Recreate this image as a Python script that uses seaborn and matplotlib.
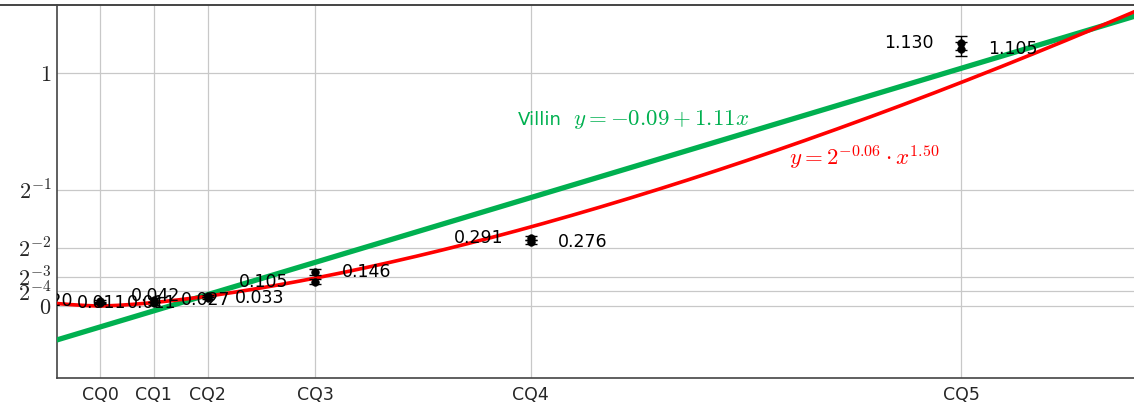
import numpy as np
import pandas as pd
import matplotlib
matplotlib.use("Agg")
import matplotlib.pyplot as plt
import seaborn as sns
from matplotlib.lines import Line2D

# categories and their x positions (CQ5 = 1)
categories = ["CQ0", "CQ1", "CQ2", "CQ3", "CQ4", "CQ5"]
x_pos = [0.0, 0.0625, 0.125, 0.25, 0.5, 1.0]

# two measurements per category (left label / right label)
left_vals = [0.020, 0.011, 0.042, 0.105, 0.291, 1.130]
right_vals = [0.011, 0.027, 0.033, 0.146, 0.276, 1.105]
left_err = [0.004, 0.008, 0.005, 0.012, 0.008, 0.030]
right_err = [0.004, 0.008, 0.005, 0.012, 0.008, 0.030]

# fit coefficients
lin_a, lin_b = -0.09, 1.11
pow_c, pow_p = -0.06, 1.50

y_ticks = [0, 1 / 16, 1 / 8, 1 / 4, 1 / 2, 1]
y_ticklabels = ["$0$", "$2^{-4}$", "$2^{-3}$", "$2^{-2}$", "$2^{-1}$", "$1$"]

green = "#00b050"
red = "#ff0000"

sns.set_theme(style="whitegrid")
plt.rcParams["font.family"] = ["DejaVu Sans"]
plt.rcParams["mathtext.fontset"] = "cm"

fig = plt.figure(figsize=(11.34, 4.05), dpi=100)
ax = fig.add_axes([57 / 1134, 27 / 405, 1 - 57 / 1134, 373 / 405])

df = pd.DataFrame({
    "x": x_pos * 2,
    "y": left_vals + right_vals,
    "err": left_err + right_err,
})

# fit lines
xf = np.linspace(-0.05, 1.21, 300)
fits = pd.DataFrame({"x": xf,
                     "lin": lin_a + lin_b * xf,
                     "pow": 2 ** pow_c * np.abs(xf) ** pow_p})
sns.lineplot(data=fits, x="x", y="lin", ax=ax, color=green, linewidth=3.8, zorder=3)
sns.lineplot(data=fits, x="x", y="pow", ax=ax, color=red, linewidth=2.6, zorder=4)

# points with error bars
ax.errorbar(df["x"], df["y"], yerr=df["err"], fmt="none", ecolor="black",
            elinewidth=1.0, capsize=4, capthick=1.0, zorder=5)
sns.scatterplot(data=df, x="x", y="y", ax=ax, color="black", s=30,
                edgecolor="black", zorder=6)

# value labels
for xv, lv, rv in zip(x_pos, left_vals, right_vals):
    a1 = ax.annotate(f"{lv:.3f}", (xv, lv), xytext=(-27, 0), textcoords="offset pixels",
                     ha="right", va="center", fontsize=12.5, color="black", zorder=7)
    a2 = ax.annotate(f"{rv:.3f}", (xv, rv), xytext=(27, 0), textcoords="offset pixels",
                     ha="left", va="center", fontsize=12.5, color="black", zorder=7)
    for a in (a1, a2):
        a.set_clip_on(True)
        a.set_clip_path(ax.patch)

# fit labels
ax.text(0.485, 0.80, "Villin", color=green, fontsize=13, ha="left", va="center")
ax.annotate(r"$y = -0.09 + 1.11x$", (0.485, 0.80), xytext=(55, 0),
            textcoords="offset pixels", color=green, fontsize=16.5,
            ha="left", va="center")
ax.text(0.80, 0.64, r"$y = 2^{-0.06} \cdot x^{1.50}$", color=red, fontsize=16.5,
        ha="left", va="center")

ax.set_xlim(-0.05, 1.201)
ax.set_ylim(-0.309, 1.292)
ax.set_xticks(x_pos)
ax.set_xticklabels(categories, fontsize=12.5)
ax.set_yticks(y_ticks)
ax.set_yticklabels(y_ticklabels, fontsize=16)
ax.set_xlabel("")
ax.set_ylabel("")

ax.grid(True, color="#c8c8c8", linewidth=0.9)
ax.tick_params(axis="x", length=0, pad=6)
ax.tick_params(axis="y", length=4, color="#aaaaaa", direction="in", pad=4)
for s in ["right", "top"]:
    ax.spines[s].set_visible(False)
for s in ["left", "bottom"]:
    ax.spines[s].set_color("#444444")
    ax.spines[s].set_linewidth(1.2)
ax.set_facecolor("white")

fig.add_artist(Line2D([0, 1], [400 / 405, 400 / 405], color="#444444", linewidth=1.4))

fig.savefig("out.png", dpi=100)
